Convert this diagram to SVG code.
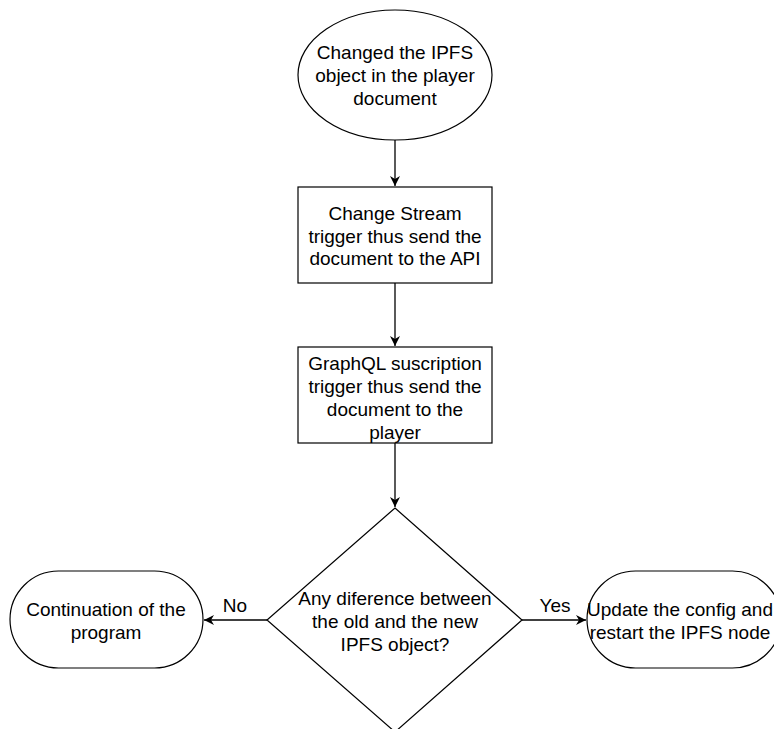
<svg xmlns="http://www.w3.org/2000/svg" width="774" height="729" viewBox="0 0 774 729">
<defs>
<marker id="arr" markerUnits="userSpaceOnUse" markerWidth="12" markerHeight="10" refX="10" refY="5" orient="auto">
<path d="M0,0 L10,5 L0,10 L3,5 z" fill="#000"/>
</marker>
<style>
.s{fill:#fff;stroke:#000;stroke-width:1.2}
.t{font-family:"Liberation Sans",Arial,sans-serif;font-size:19px;fill:#000;text-anchor:middle}
.c{fill:none;stroke:#000;stroke-width:1.3}
</style>
</defs>
<rect width="774" height="729" fill="#fff"/>
<g id="connectors">
<line class="c" x1="395" y1="140" x2="395" y2="186" marker-end="url(#arr)"/>
<line class="c" x1="395" y1="283" x2="395" y2="346" marker-end="url(#arr)"/>
<line class="c" x1="395" y1="443" x2="395" y2="507" marker-end="url(#arr)"/>
<line class="c" x1="267" y1="620" x2="204" y2="620" marker-end="url(#arr)"/>
<line class="c" x1="522" y1="620" x2="586" y2="620" marker-end="url(#arr)"/>
<text class="t" x="235" y="612">No</text>
<text class="t" x="555" y="612">Yes</text>
</g>
<g id="start">
<ellipse class="s" cx="395" cy="75" rx="97" ry="65"/>
<text class="t" x="395" y="59">Changed the IPFS</text>
<text class="t" x="395" y="82">object in the player</text>
<text class="t" x="395" y="105">document</text>
</g>
<g id="change-stream">
<rect class="s" x="298" y="187" width="194" height="96"/>
<text class="t" x="395" y="220">Change Stream</text>
<text class="t" x="395" y="243">trigger thus send the</text>
<text class="t" x="395" y="265">document to the API</text>
</g>
<g id="graphql">
<rect class="s" x="298" y="347" width="194" height="96"/>
<text class="t" x="395" y="370">GraphQL suscription</text>
<text class="t" x="395" y="393">trigger thus send the</text>
<text class="t" x="395" y="416">document to the</text>
<text class="t" x="395" y="439">player</text>
</g>
<g id="decision">
<polygon class="s" points="395,508 522,620 395,732 267,620"/>
<text class="t" x="395" y="605">Any diference between</text>
<text class="t" x="395" y="628">the old and the new</text>
<text class="t" x="395" y="651">IPFS object?</text>
</g>
<g id="continuation">
<rect class="s" x="10" y="571" width="193" height="97" rx="48.5" ry="48.5"/>
<text class="t" x="106" y="616">Continuation of the</text>
<text class="t" x="106" y="639">program</text>
</g>
<g id="update">
<rect class="s" x="587" y="571" width="194" height="97" rx="48.5" ry="48.5"/>
<text class="t" x="680" y="616" font-size="18.5">Update the config and</text>
<text class="t" x="680" y="639" font-size="18.5">restart the IPFS node</text>
</g>
</svg>
